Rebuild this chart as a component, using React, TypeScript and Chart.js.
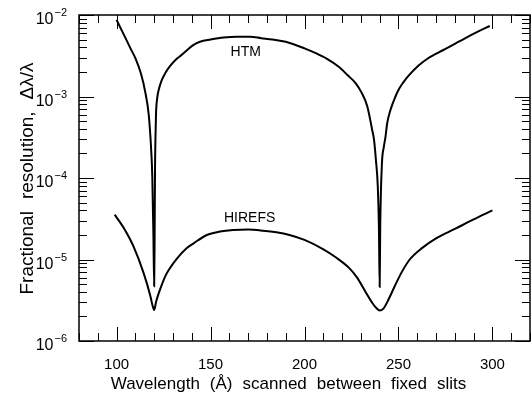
import { useEffect, useRef } from "react";
import { Chart, registerables } from "chart.js";

Chart.register(...registerables);

// ---- data ----
const htmWavelength = [
  100, 103, 107.4, 110, 113, 115.3, 117.1, 118.4, 119, 119.6, 120, 120.25, 120.45, 120.7,
  121.0, 121.6, 122.5, 124, 126, 128.2, 132, 134, 141, 144.4, 150, 157, 164, 171, 177,
  183, 190, 200, 206, 212, 218.4, 223, 227.3, 230.5, 233.4, 236, 237, 238, 239, 239.6, 240,
  240.3, 241.2, 242.2, 243.1, 244, 245.8, 248.4, 250.5, 252.5, 255.4, 260.7, 266, 273.9,
  280, 285.4, 292, 298.6,
];
const htmResolution = [
  8.7e-3, 6.3e-3, 3.9e-3, 2.95e-3, 1.9e-3, 1.12e-3, 6.0e-4, 2.24e-4, 1.05e-4, 2.0e-5, 4.7e-6,
  2.0e-5, 1.26e-4, 3.2e-4, 6.3e-4, 9.5e-4, 1.23e-3, 1.58e-3, 1.95e-3, 2.32e-3, 2.9e-3,
  3.15e-3, 4.3e-3, 4.7e-3, 5.0e-3, 5.3e-3, 5.42e-3, 5.42e-3, 5.2e-3, 5.0e-3, 4.7e-3, 3.9e-3,
  3.4e-3, 2.9e-3, 2.3e-3, 1.82e-3, 1.45e-3, 1.1e-3, 7.6e-4, 3.9e-4, 2.95e-4, 1.66e-4, 7.9e-5,
  2.5e-5, 4.6e-6, 2.5e-5, 1.5e-4, 2.4e-4, 3.2e-4, 4.7e-4, 6.9e-4, 1.0e-3, 1.26e-3, 1.48e-3,
  1.8e-3, 2.4e-3, 2.97e-3, 3.72e-3, 4.43e-3, 5.18e-3, 6.2e-3, 7.33e-3,
];
const hirefsWavelength = [
  99, 104, 109, 114.4, 118, 119, 120, 121, 122, 123.3, 126, 128.5, 132, 137.4, 141, 148, 155,
  162, 170, 178, 185, 192, 200, 209.6, 217, 223.7, 228, 232.5, 236, 238.5, 240, 242, 244.9,
  248, 251.9, 256, 262.5, 270, 280, 290, 300,
];
const hirefsResolution = [
  3.55e-5, 2.4e-5, 1.45e-5, 6.8e-6, 3.55e-6, 2.8e-6, 2.4e-6, 3.0e-6, 3.6e-6, 4.4e-6, 6.3e-6,
  7.9e-6, 1.02e-5, 1.38e-5, 1.58e-5, 2.0e-5, 2.2e-5, 2.3e-5, 2.33e-5, 2.26e-5, 2.16e-5, 2.0e-5,
  1.74e-5, 1.35e-5, 1.05e-5, 7.9e-6, 6.0e-6, 4.0e-6, 2.95e-6, 2.5e-6, 2.37e-6, 2.5e-6, 3.3e-6,
  4.7e-6, 7.1e-6, 1.0e-5, 1.38e-5, 1.82e-5, 2.37e-5, 3.1e-5, 4.0e-5,
];

const xMin = 80;
const xMax = 320;
const yMin = 1e-6;
const yMax = 1e-2;
const xLabelTicks = [100, 150, 200, 250, 300];
const xMinorStep = 10;
const xMajorStep = 50;
const yDecadeExponents = [-6, -5, -4, -3, -2];
const curveLabels = [
  { text: "HTM", x: 168.7, y: 3.5e-3 },
  { text: "HIREFS", x: 170.8, y: 3.2e-5 },
];
const xTitle = "Wavelength (Å) scanned between fixed slits";
const yTitle = "Fractional resolution, Δλ/λ";

const FONT = "'Liberation Sans', Arial, Helvetica, sans-serif";

function toPoints(xs: number[], ys: number[]) {
  return xs.map((x, i) => ({ x, y: ys[i] }));
}

function drawWords(ctx: CanvasRenderingContext2D, text: string, cx: number, y: number, gap: number) {
  const words = text.split(" ");
  const widths = words.map((w) => ctx.measureText(w).width);
  const total = widths.reduce((a, b) => a + b, 0) + gap * (words.length - 1);
  let x = cx - total / 2;
  ctx.textAlign = "left";
  words.forEach((w, i) => {
    ctx.fillText(w, x, y);
    x += widths[i] + gap;
  });
}

const framePlugin = {
  id: "framePlugin",
  afterDraw(chart: any) {
    const { ctx, chartArea } = chart;
    const { left, right, top, bottom } = chartArea;
    const xs = chart.scales.x;
    const ys = chart.scales.y;
    ctx.save();
    ctx.strokeStyle = "#000";
    ctx.fillStyle = "#000";
    ctx.lineWidth = 1.5;
    ctx.strokeRect(left, top, right - left, bottom - top);

    // x ticks (inward, bottom and top)
    ctx.lineWidth = 1;
    for (let v = xMin; v <= xMax; v += xMinorStep) {
      const px = Math.round(xs.getPixelForValue(v)) + 0.5;
      const len = v % xMajorStep === 0 ? 14 : 8;
      ctx.beginPath();
      ctx.moveTo(px, bottom);
      ctx.lineTo(px, bottom - len);
      ctx.moveTo(px, top);
      ctx.lineTo(px, top + len);
      ctx.stroke();
    }
    // y ticks (inward, left and right)
    for (const e of yDecadeExponents) {
      for (let k = 1; k <= 9; k++) {
        const v = k * Math.pow(10, e);
        if (v < yMin * 0.999 || v > yMax * 1.001) continue;
        const py = Math.round(ys.getPixelForValue(v)) + 0.5;
        const len = k === 1 ? 15 : 8;
        ctx.beginPath();
        ctx.moveTo(left, py);
        ctx.lineTo(left + len, py);
        ctx.moveTo(right, py);
        ctx.lineTo(right - len, py);
        ctx.stroke();
      }
    }

    // x tick labels
    ctx.font = `15px ${FONT}`;
    ctx.textAlign = "center";
    ctx.textBaseline = "alphabetic";
    for (const v of xLabelTicks) {
      ctx.fillText(String(v), xs.getPixelForValue(v), bottom + 28);
    }

    // y tick labels: 10^e
    for (const e of yDecadeExponents) {
      const py = ys.getPixelForValue(Math.pow(10, e));
      const exp = "−" + String(-e);
      ctx.font = `11px ${FONT}`;
      const ew = ctx.measureText(exp).width;
      ctx.textAlign = "right";
      ctx.fillText(exp, left - 12, py + 1);
      ctx.font = `16px ${FONT}`;
      ctx.fillText("10", left - 13 - ew, py + 9);
    }

    // curve labels
    ctx.font = `14px ${FONT}`;
    ctx.textAlign = "center";
    ctx.textBaseline = "middle";
    for (const l of curveLabels) {
      ctx.fillText(l.text, xs.getPixelForValue(l.x), ys.getPixelForValue(l.y));
    }

    // axis titles
    ctx.textBaseline = "alphabetic";
    ctx.font = `17px ${FONT}`;
    drawWords(ctx, xTitle, 288.5, 389, 10);

    ctx.font = `19px ${FONT}`;
    ctx.translate(33, 178.5);
    ctx.rotate(-Math.PI / 2);
    drawWords(ctx, yTitle, 0, 0, 12);
    ctx.restore();
  },
};

export default function App() {
  const canvasRef = useRef<HTMLCanvasElement | null>(null);

  useEffect(() => {
    const canvas = canvasRef.current;
    if (!canvas) return;
    const chart = new Chart(canvas, {
      type: "line",
      data: {
        datasets: [
          {
            label: "HTM",
            data: toPoints(htmWavelength, htmResolution),
            borderColor: "#000",
            borderWidth: 2,
            pointRadius: 0,
            cubicInterpolationMode: "monotone",
            fill: false,
          },
          {
            label: "HIREFS",
            data: toPoints(hirefsWavelength, hirefsResolution),
            borderColor: "#000",
            borderWidth: 2,
            pointRadius: 0,
            cubicInterpolationMode: "monotone",
            fill: false,
          },
        ],
      },
      options: {
        responsive: false,
        animation: false,
        devicePixelRatio: 1,
        layout: { padding: { left: 79, right: 1, top: 15, bottom: 52 } },
        plugins: { legend: { display: false }, tooltip: { enabled: false } },
        scales: {
          x: { type: "linear", min: xMin, max: xMax, display: false },
          y: { type: "logarithmic", min: yMin, max: yMax, display: false },
        },
      },
      plugins: [framePlugin],
    } as any);
    return () => chart.destroy();
  }, []);

  return (
    <div style={{ position: "absolute", left: 0, top: 0, width: 531, height: 393, background: "#fff" }}>
      <canvas ref={canvasRef} width={531} height={393} />
    </div>
  );
}
